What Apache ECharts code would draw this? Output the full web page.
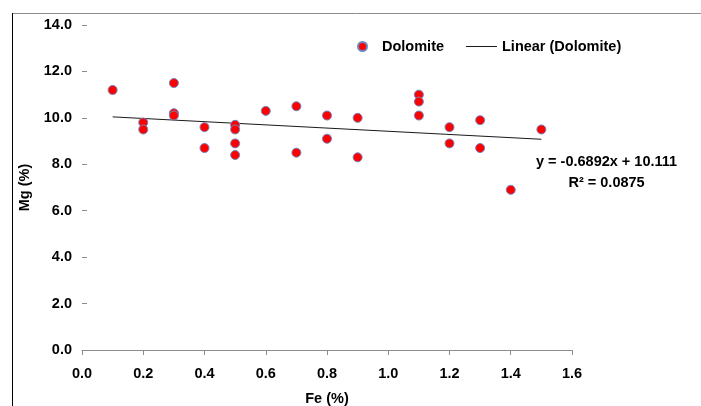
<!DOCTYPE html>
<html>
<head>
<meta charset="utf-8">
<script src="https://cdn.jsdelivr.net/npm/echarts@6/dist/echarts.min.js"></script>
<style>
  html, body { margin: 0; padding: 0; background: #fff; }
  #chart { width: 701px; height: 406px; }
</style>
</head>
<body>
<div id="chart"></div>
<script>
// Fe (%) vs Mg (%) for dolomite samples
const feValues = [0.1, 0.2, 0.2, 0.3, 0.3, 0.3, 0.4, 0.4, 0.5, 0.5, 0.5, 0.5, 0.6, 0.7,
  0.7, 0.8, 0.8, 0.9, 0.9, 1.1, 1.1, 1.1, 1.2, 1.2, 1.3, 1.3, 1.4, 1.5];
const mgValues = [11.2, 9.8, 9.5, 11.5, 10.2, 10.1, 9.6, 8.7, 9.7, 9.5, 8.9, 8.4, 10.3, 10.5,
  8.5, 10.1, 9.1, 10.0, 8.3, 11.0, 10.7, 10.1, 9.6, 8.9, 9.9, 8.7, 6.9, 9.5];

// linear trend (as printed on the chart)
const slope = -0.6892;
const intercept = 10.111;
const rSquared = '0.0875';

const seriesName = 'Dolomite';
const trendName = 'Linear (Dolomite)';

const points = feValues.map((x, i) => [x, mgValues[i]]);
const xMin = Math.min(...feValues);
const xMax = Math.max(...feValues);
const trendLine = [xMin, xMax].map(x => [x, slope * x + intercept]);

const font = 'Liberation Sans, Arial, sans-serif';
const fontSize = 14.5;
const labelStyle = { color: '#000', fontWeight: 'bold', fontSize: fontSize, fontFamily: font };

const chart = echarts.init(document.getElementById('chart'));
const option = {
  animation: false,
  backgroundColor: '#fff',
  grid: { left: 82, right: 129, top: 25, bottom: 56, outerBoundsMode: 'none' },
  legend: [
    {
      data: [seriesName],
      left: 352, top: 34,
      itemWidth: 9, itemHeight: 9,
      itemGap: 0,
      textStyle: Object.assign({ padding: [0, 0, 0, 10] }, labelStyle)
    },
    {
      data: [{ name: trendName, icon: 'rect' }],
      left: 461, top: 34,
      itemWidth: 31, itemHeight: 1,
      textStyle: Object.assign({ padding: [0, 0, 0, 0] }, labelStyle)
    }
  ],
  xAxis: {
    type: 'value',
    min: 0, max: 1.6, interval: 0.2,
    name: 'Fe (%)',
    nameLocation: 'middle',
    nameGap: 41,
    nameTextStyle: labelStyle,
    axisLine: { show: true, lineStyle: { color: '#8c8c8c', width: 1 } },
    axisTick: { show: true, length: 5, lineStyle: { color: '#8c8c8c' } },
    axisLabel: Object.assign({ margin: 16, formatter: v => v.toFixed(1) }, labelStyle),
    splitLine: { show: false }
  },
  yAxis: {
    type: 'value',
    min: 0, max: 14, interval: 2,
    name: 'Mg (%)',
    nameLocation: 'middle',
    nameGap: 50,
    nameRotate: 90,
    nameTextStyle: labelStyle,
    axisLine: { show: false },
    axisTick: { show: true, inside: true, length: 5, lineStyle: { color: '#8c8c8c' } },
    axisLabel: Object.assign({ margin: 10, formatter: v => v.toFixed(1) }, labelStyle),
    splitLine: { show: false }
  },
  graphic: [
    { type: 'line', shape: { x1: 12, y1: 13.5, x2: 701, y2: 13.5 }, style: { stroke: '#8c8c8c', lineWidth: 1 } },
    { type: 'line', shape: { x1: 12.5, y1: 13, x2: 12.5, y2: 406 }, style: { stroke: '#000', lineWidth: 1 } },
    {
      type: 'text', left: 536, top: 151,
      style: {
        text: 'y = ' + slope + 'x + ' + intercept.toFixed(3) + '\nR² = ' + rSquared,
        textAlign: 'center', x: 73, lineHeight: 21,
        fill: '#000', font: 'bold ' + fontSize + 'px ' + font
      }
    }
  ],
  series: [
    {
      name: seriesName,
      type: 'scatter',
      data: points,
      symbolSize: 9,
      itemStyle: { color: '#ff0000', borderColor: '#6f86c0', borderWidth: 1, opacity: 1 },
      z: 3
    },
    {
      name: trendName,
      type: 'line',
      data: trendLine,
      symbol: 'none',
      lineStyle: { color: '#1a1a1a', width: 1 },
      itemStyle: { color: '#1a1a1a' },
      z: 2
    }
  ]
};
chart.setOption(option);
window.addEventListener('resize', () => {
  chart.resize();
});
</script>
</body>
</html>
